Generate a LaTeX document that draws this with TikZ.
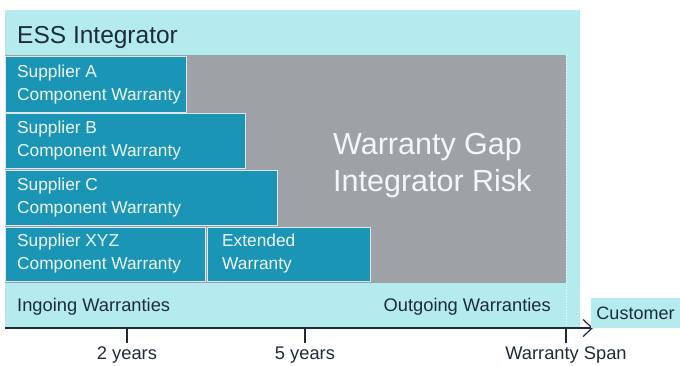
\documentclass[tikz,border=0pt]{standalone}
\usepackage{fontspec}
\setmainfont{Liberation Sans}
\usetikzlibrary{arrows.meta}
\definecolor{cyanbg}{HTML}{B3EBEF}
\definecolor{tealbox}{HTML}{1A95B6}
\definecolor{gapgray}{HTML}{9EA2A6}
\definecolor{darktxt}{HTML}{1F2B3A}
\definecolor{lighttxt}{HTML}{F0F8FA}
\definecolor{boxedge}{HTML}{DCE6EA}
\begin{document}
\begin{tikzpicture}[x=1pt,y=-1pt,
  bgarea/.style={fill=cyanbg, draw=none, inner sep=0pt, outer sep=0pt},
  gaparea/.style={fill=gapgray, draw=none, inner sep=0pt, outer sep=0pt},
  wbox/.style={fill=tealbox, draw=boxedge, line width=0.8pt, inner sep=0pt, outer sep=0pt, anchor=north west},
  wtext/.style={text=lighttxt, font=\fontsize{17.3}{23}\selectfont, align=left, inner sep=0pt, anchor=west},
  dtext/.style={text=darktxt, font=\fontsize{18.3}{23}\selectfont, inner sep=0pt},
  axisline/.style={draw=darktxt, line width=1.2pt},
]
\useasboundingbox (0,0) rectangle (680,365);
\fill[white] (0,0) rectangle (680,365);

% ESS Integrator area
\node[bgarea, minimum width=575pt, minimum height=318pt, anchor=north west] (integ) at (5,10) {};
\node[dtext, font=\fontsize{24.5}{28}\selectfont, anchor=west] (integt) at (17,37) {ESS Integrator};

% Warranty gap
\node[gaparea, minimum width=561pt, minimum height=228pt, anchor=north west] (gap) at (5,55) {};
\node[wtext, font=\fontsize{30.5}{37}\selectfont] (gapt) at (333,166) {Warranty Gap\\Integrator Risk};

% Supplier warranties
\node[wbox, minimum width=181pt, minimum height=56pt] (supa) at (5,56) {};
\node[wtext] (supat) at (17,85) {Supplier A\\Component Warranty};
\node[wbox, minimum width=240pt, minimum height=55pt] (supb) at (5,113) {};
\node[wtext] (supbt) at (17,141) {Supplier B\\Component Warranty};
\node[wbox, minimum width=272pt, minimum height=55pt] (supc) at (5,170) {};
\node[wtext] (supct) at (17,198) {Supplier C\\Component Warranty};
\node[wbox, minimum width=200pt, minimum height=54pt] (supx) at (5,227) {};
\node[wtext] (supxt) at (17,254) {Supplier XYZ\\Component Warranty};
\node[wbox, minimum width=163pt, minimum height=54pt] (ext) at (207,227) {};
\node[wtext] (extt) at (222,254) {Extended\\Warranty};

% Ingoing / outgoing
\node[dtext, anchor=west] (ing) at (17,307) {Ingoing Warranties};
\node[dtext, anchor=east] (outg) at (551,307) {Outgoing Warranties};

% Axis
\coordinate (a0) at (5,328);
\coordinate (a1) at (593,328);
\coordinate (t2) at (127,328);
\coordinate (t5) at (305,328);
\coordinate (ts) at (566,328);
\draw[white, dotted, line width=0.8pt] (gap.north east) -- (ts);
\draw[axisline, -{Straight Barb[length=9pt,width=17pt,line width=1.2pt]}] (a0) -- (a1);
\draw[axisline] (t2) -- ++(0,15);
\draw[axisline] (t5) -- ++(0,15);
\draw[axisline] (ts) -- ++(0,15);
\node[dtext, anchor=base] (l2) at (127,359.5) {2 years};
\node[dtext, anchor=base] (l5) at (305,359.5) {5 years};
\node[dtext, anchor=base] (ls) at (566,359.5) {Warranty Span};

% Customer
\node[bgarea, minimum width=89pt, minimum height=30pt, anchor=north west, text=darktxt, font=\fontsize{18}{23}\selectfont] (cust) at (591,298) {Customer};
\end{tikzpicture}
\end{document}
